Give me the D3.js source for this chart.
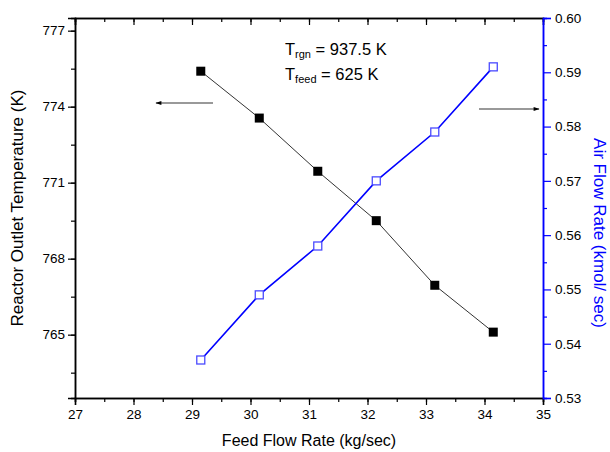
<!DOCTYPE html>
<html><head><meta charset="utf-8">
<script src="https://cdn.jsdelivr.net/npm/d3@7/dist/d3.min.js"></script>
<style>body{margin:0;background:#fff}svg{display:block}text{font-family:"Liberation Sans",Arial,sans-serif}</style>
</head><body><svg id="c" width="610" height="452"></svg>
<script>
const feedFlow = [29.15, 30.15, 31.15, 32.15, 33.15, 34.15];
const outletTemp = [775.4, 773.55, 771.45, 769.5, 766.95, 765.1];
const airFlow = [0.537, 0.549, 0.558, 0.570, 0.579, 0.591];
const xTicks = [27, 28, 29, 30, 31, 32, 33, 34, 35];
const leftTicks = [765, 768, 771, 774, 777];
const rightTicks = [0.53, 0.54, 0.55, 0.56, 0.57, 0.58, 0.59, 0.60];

const svg = d3.select("#c");
const L = 75, R = 543, T = 18, B = 398;
const x = d3.scaleLinear().domain([27, 35]).range([L, R]);
const yL = d3.scaleLinear().domain([762.5, 777.5]).range([B, T]);
const yR = d3.scaleLinear().domain([0.53, 0.60]).range([B, T]);
const blue = "#0000ff";

function styleAxis(g, color) {
  g.selectAll("path").attr("stroke", color).attr("stroke-width", 1.5);
  g.selectAll("line").attr("stroke", color).attr("stroke-width", 1.2);
  g.selectAll("text").attr("fill", "#000").style("font-size", "13.5px");
}
const xMinor = d3.range(27, 35.01, 0.5);
// bottom axis
const gb = svg.append("g").attr("transform", `translate(0,${B})`);
gb.append("g").call(d3.axisBottom(x).tickValues(xMinor).tickSize(4).tickFormat("")).call(g => styleAxis(g, "#000"));
gb.append("g").call(d3.axisBottom(x).tickValues(xTicks).tickSize(7).tickPadding(4).tickFormat(d3.format("d"))).call(g => styleAxis(g, "#000"));
// top axis (inward ticks)
const gt = svg.append("g").attr("transform", `translate(0,${T})`);
gt.append("g").call(d3.axisBottom(x).tickValues(xMinor).tickSize(4).tickFormat("")).call(g => styleAxis(g, "#000"));
gt.append("g").call(d3.axisBottom(x).tickValues(xTicks).tickSize(7).tickFormat("")).call(g => styleAxis(g, "#000"));
// left axis
const lMinor = d3.range(763.5, 777.6, 1.5);
const gl = svg.append("g").attr("transform", `translate(${L},0)`);
gl.append("g").call(d3.axisLeft(yL).tickValues(lMinor).tickSize(4).tickFormat("")).call(g => styleAxis(g, "#000"));
gl.append("g").call(d3.axisLeft(yL).tickValues(leftTicks).tickSize(7).tickPadding(3).tickFormat(d3.format("d"))).call(g => styleAxis(g, "#000"));
// right axis
const rMinor = d3.range(0.535, 0.6, 0.01);
const gr = svg.append("g").attr("transform", `translate(${R},0)`);
gr.append("g").call(d3.axisRight(yR).tickValues(rMinor).tickSize(4).tickFormat("")).call(g => styleAxis(g, blue));
gr.append("g").call(d3.axisRight(yR).tickValues(rightTicks).tickSize(8).tickPadding(4).tickFormat(d3.format(".2f"))).call(g => styleAxis(g, blue));

// series: temperature
const pts = feedFlow.map((f, i) => ({f, t: outletTemp[i], a: airFlow[i]}));
svg.append("path").datum(pts)
  .attr("d", d3.line().x(d => x(d.f)).y(d => yL(d.t)))
  .attr("fill", "none").attr("stroke", "#333").attr("stroke-width", 1);
svg.selectAll(".sq").data(pts).enter().append("rect")
  .attr("x", d => x(d.f) - 4.5).attr("y", d => yL(d.t) - 4.5)
  .attr("width", 9).attr("height", 9).attr("fill", "#000");
// series: air flow
svg.append("path").datum(pts)
  .attr("d", d3.line().x(d => x(d.f)).y(d => yR(d.a)))
  .attr("fill", "none").attr("stroke", blue).attr("stroke-width", 1.6);
svg.selectAll(".osq").data(pts).enter().append("rect")
  .attr("x", d => x(d.f) - 4).attr("y", d => yR(d.a) - 4)
  .attr("width", 8).attr("height", 8).attr("fill", "#fff")
  .attr("stroke", "#4a4aff").attr("stroke-width", 1.3);

// arrows
const defs = svg.append("defs");
defs.append("marker").attr("id", "ah").attr("viewBox", "0 0 10 10").attr("refX", 9).attr("refY", 5)
  .attr("markerWidth", 9).attr("markerHeight", 6).attr("markerUnits", "userSpaceOnUse").attr("orient", "auto")
  .append("path").attr("d", "M0,1.5L10,5L0,8.5z").attr("fill", "#000");
svg.append("line").attr("x1", 213).attr("y1", 103).attr("x2", 156).attr("y2", 103)
  .attr("stroke", "#777").attr("stroke-width", 1.5).attr("marker-end", "url(#ah)");
svg.append("line").attr("x1", 479).attr("y1", 109).attr("x2", 539).attr("y2", 109)
  .attr("stroke", "#777").attr("stroke-width", 1.5).attr("marker-end", "url(#ah)");

// annotation
const a1 = svg.append("text").attr("x", 285).attr("y", 55).style("font-size", "16.5px");
a1.append("tspan").text("T");
a1.append("tspan").attr("dy", 3).style("font-size", "11px").text("rgn");
a1.append("tspan").attr("dy", -3).text(" = 937.5 K");
const a2 = svg.append("text").attr("x", 285).attr("y", 80).style("font-size", "16.5px");
a2.append("tspan").text("T");
a2.append("tspan").attr("dy", 3).style("font-size", "11px").text("feed");
a2.append("tspan").attr("dy", -3).text(" = 625 K");

// titles
svg.append("text").attr("x", (L + R) / 2).attr("y", 446).attr("text-anchor", "middle")
  .style("font-size", "16px").text("Feed Flow Rate (kg/sec)");
svg.append("text").attr("transform", `translate(23,${(T + B) / 2}) rotate(-90)`).attr("text-anchor", "middle")
  .style("font-size", "17px").text("Reactor Outlet Temperature (K)");
svg.append("text").attr("transform", `translate(594,${(T + B) / 2 + 25}) rotate(90)`).attr("text-anchor", "middle")
  .style("font-size", "17px").attr("fill", blue).text("Air Flow Rate (kmol/ sec)");
</script></body></html>
